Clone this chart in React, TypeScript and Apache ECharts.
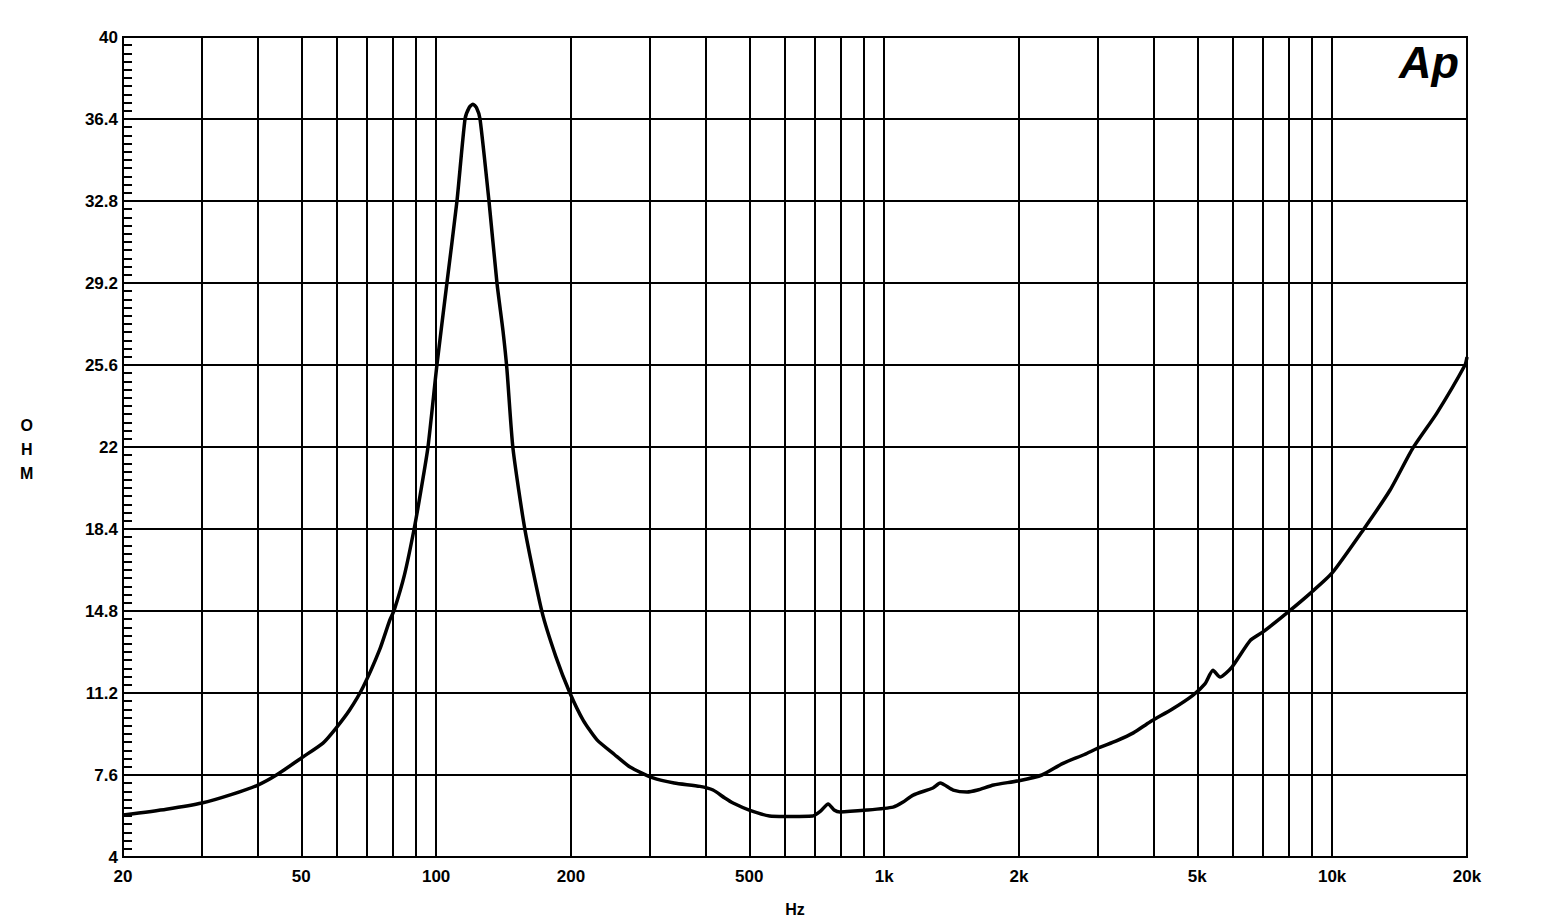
import React, { useEffect, useRef } from "react";
import * as echarts from "echarts";

// Frequency (Hz) and impedance (ohm)
const freqHz = [
  20, 25, 30, 35, 40, 44, 50.4, 55.9, 59.8, 64.1, 68.7, 74.8, 78.8, 80.6, 85, 89.3, 92.5, 95.9,
  100.4, 105.7, 111.3, 116, 118.5, 120.8, 123, 125.3, 131.2, 136.7, 141, 143.9, 148.4, 157.9,
  172.3, 185, 198.9, 213, 228.6, 250, 270.9, 304.8, 340, 388, 415, 440, 460, 500, 555, 600, 693,
  720, 750, 775, 797, 916, 1047, 1100, 1161, 1285, 1334, 1426, 1531, 1617, 1755, 2000, 2250,
  2500, 2800, 3000, 3300, 3600, 3920, 4400, 4886, 5200, 5420, 5620, 5976, 6560, 7010, 7980,
  9000, 10000, 11720, 13460, 15140, 17130, 19800, 20000,
];
const impedanceOhm = [
  5.84, 6.1, 6.37, 6.75, 7.16, 7.6, 8.39, 9.0, 9.66, 10.45, 11.46, 13.1, 14.4, 14.84, 16.4,
  18.4, 20.1, 22.0, 25.6, 29.2, 32.8, 36.4, 36.9, 37.05, 36.9, 36.4, 32.8, 29.2, 27.1, 25.4,
  21.95, 18.35, 14.76, 12.8, 11.2, 10.0, 9.14, 8.5, 7.95, 7.47, 7.25, 7.1, 6.94, 6.6, 6.37, 6.06,
  5.8, 5.78, 5.8, 6.0, 6.33, 6.05, 5.98, 6.06, 6.19, 6.4, 6.72, 7.03, 7.25, 6.94, 6.85, 6.94,
  7.16, 7.35, 7.6, 8.1, 8.5, 8.78, 9.1, 9.45, 9.93, 10.5, 11.1, 11.6, 12.2, 11.9, 12.34, 13.5,
  13.88, 14.76, 15.63, 16.47, 18.35, 20.1, 21.95, 23.49, 25.6, 25.95,
];

const xGridValues = [
  20, 30, 40, 50, 60, 70, 80, 90, 100, 200, 300, 400, 500, 600, 700, 800, 900, 1000, 2000, 3000,
  4000, 5000, 6000, 7000, 8000, 9000, 10000, 20000,
];
const xLabelValues = [20, 50, 100, 200, 500, 1000, 2000, 5000, 10000, 20000];
const yLabelValues = [4, 7.6, 11.2, 14.8, 18.4, 22, 25.6, 29.2, 32.8, 36.4, 40];
const yMinorPerMajor = 10;

const FONT = '"Liberation Sans", Arial, Helvetica, sans-serif';

function buildMinorTicks(): number[] {
  const out: number[] = [];
  for (let i = 0; i < yLabelValues.length - 1; i++) {
    const a = yLabelValues[i];
    const b = yLabelValues[i + 1];
    for (let k = 0; k < yMinorPerMajor; k++) {
      out.push(Math.round((a + ((b - a) * k) / yMinorPerMajor) * 1000) / 1000);
    }
  }
  out.push(yLabelValues[yLabelValues.length - 1]);
  return out;
}

function fmtHz(v: number): string {
  const r = Math.round(v);
  return r >= 1000 ? `${Math.round(r / 1000)}k` : String(r);
}

export default function App() {
  const ref = useRef<HTMLDivElement>(null);

  useEffect(() => {
    if (!ref.current) return;
    const chart = echarts.init(ref.current, null, { renderer: "svg" });
    const data = freqHz.map((f, i) => [f, impedanceOhm[i]]);
    const minorTicks = buildMinorTicks();

    chart.setOption({
      animation: false,
      backgroundColor: "#fff",
      grid: {
        left: 123,
        right: 92,
        top: 37,
        bottom: 64,
        show: true,
        borderColor: "#000",
        borderWidth: 2,
        containLabel: false,
        outerBoundsMode: "none",
      },
      xAxis: {
        type: "log",
        logBase: 10,
        min: 20,
        max: 20000,
        name: "Hz",
        nameLocation: "middle",
        nameGap: 44,
        nameTextStyle: { fontFamily: FONT, fontWeight: "bold", fontSize: 16, color: "#000" },
        axisLine: { show: true, lineStyle: { color: "#000", width: 2 } },
        axisTick: { show: false, customValues: xGridValues },
        minorTick: { show: false },
        splitLine: { show: true, lineStyle: { color: "#000", width: 2 } },
        axisLabel: {
          customValues: xLabelValues,
          formatter: (v: number) => fmtHz(v),
          fontFamily: FONT,
          fontWeight: "bold",
          fontSize: 17,
          color: "#000",
          margin: 11,
          hideOverlap: false,
        },
      },
      yAxis: [
        {
          type: "value",
          min: 4,
          max: 40,
          position: "left",
          axisLine: { show: true, lineStyle: { color: "#000", width: 2 } },
          axisTick: {
            show: true,
            inside: true,
            length: 9,
            lineStyle: { color: "#000", width: 2 },
            customValues: minorTicks,
          },
          splitLine: { show: false },
          axisLabel: {
            customValues: yLabelValues,
            formatter: (v: number) => String(Math.round(v * 10) / 10),
            fontFamily: FONT,
            fontWeight: "bold",
            fontSize: 17,
            color: "#000",
            margin: 5,
            hideOverlap: false,
          },
        },
        {
          type: "value",
          min: 4,
          max: 40,
          position: "left",
          axisLine: { show: false },
          axisTick: { show: false, customValues: yLabelValues },
          axisLabel: { show: false },
          splitLine: { show: true, lineStyle: { color: "#000", width: 2 } },
        },
      ],
      graphic: [
        {
          type: "text",
          left: 20,
          top: 413,
          style: {
            text: "O\nH\nM",
            font: `bold 16px ${FONT}`,
            fill: "#000",
            textAlign: "center",
            lineHeight: 24,
          },
        },
        {
          type: "text",
          right: 100,
          top: 40,
          style: {
            text: "Ap",
            font: `italic bold 45px ${FONT}`,
            fill: "#000",
          },
        },
      ],
      series: [
        {
          type: "line",
          data,
          xAxisIndex: 0,
          yAxisIndex: 0,
          showSymbol: false,
          symbol: "none",
          smooth: 0.2,
          lineStyle: { color: "#000", width: 3.5 },
          z: 5,
        },
      ],
    });

    return () => chart.dispose();
  }, []);

  return (
    <div
      ref={ref}
      style={{ position: "fixed", left: 0, top: 0, width: 1559, height: 921, background: "#fff" }}
    />
  );
}
